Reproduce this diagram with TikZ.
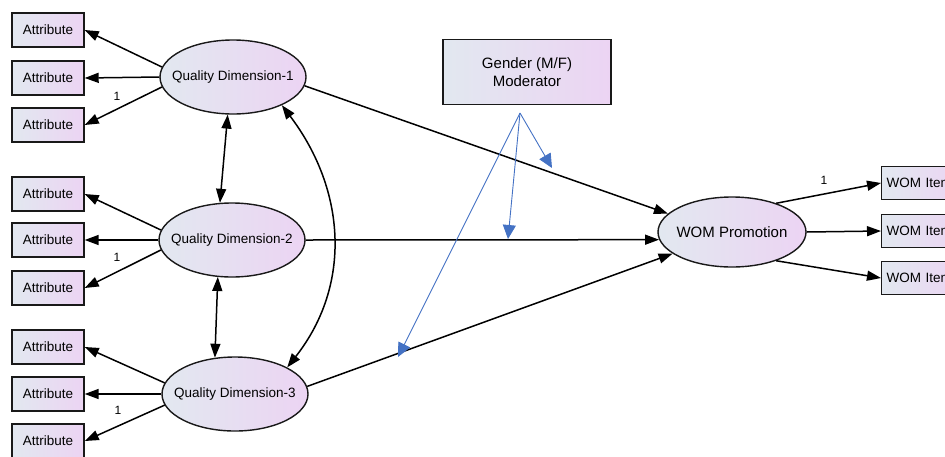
\documentclass[tikz,border=0pt]{standalone}
\usepackage{fontspec}
\setmainfont{Liberation Sans}
\usetikzlibrary{arrows.meta,shapes.geometric}
\definecolor{gL}{RGB}{226,232,240}
\definecolor{gR}{RGB}{236,212,243}
\definecolor{mblue}{RGB}{68,114,196}
\definecolor{edgec}{RGB}{25,25,25}
\begin{document}
\begin{tikzpicture}[x=1pt,y=-1pt,
  attr/.style={draw=edgec, line width=1.4pt, left color=gL, right color=gR,
    minimum width=72pt, minimum height=34pt, inner sep=0pt,
    font=\fontsize{13.5}{15}\selectfont},
  itembox/.style={draw=edgec, line width=1.4pt, left color=gL, right color=gR,
    text width=72pt, align=left, minimum height=33pt, inner xsep=5pt, inner ysep=0pt,
    font=\fontsize{13.5}{15}\selectfont},
  latent/.style={ellipse, draw=edgec, line width=1.4pt, left color=gL, right color=gR,
    minimum width=146pt, minimum height=74pt, inner xsep=-10pt, inner ysep=0pt,
    font=\fontsize{13.5}{15}\selectfont},
  arr/.style={line width=1.5pt, -{Triangle[length=14pt,width=10pt]}},
  darr/.style={line width=1.5pt, {Triangle[length=14pt,width=10pt]}-{Triangle[length=14pt,width=10pt]}},
  barr/.style={draw=mblue, line width=0.9pt, -{Triangle[length=14pt,width=13pt]}},
  lbl/.style={font=\fontsize{12}{14}\selectfont, inner sep=0pt}
]
\useasboundingbox (0,0) rectangle (945,456);
\clip (0,0) rectangle (945,456);

% latent variables
\node[latent] (QD1) at (233,77) {Quality Dimension-1};
\node[latent] (QD2) at (232,240) {Quality Dimension-2};
\node[latent] (QD3) at (235,394) {Quality Dimension-3};
\node[latent, minimum width=148pt, minimum height=70pt, inner xsep=-8pt,
  font=\fontsize{15}{17}\selectfont] (WOM) at (732,232) {WOM Promotion};

% indicators
\node[attr] (a11) at (48,30) {Attribute};
\node[attr] (a12) at (48,78) {Attribute};
\node[attr] (a13) at (48,125) {Attribute};
\node[attr] (a21) at (48,194) {Attribute};
\node[attr] (a22) at (48,240) {Attribute};
\node[attr] (a23) at (48,288) {Attribute};
\node[attr] (a31) at (48,347) {Attribute};
\node[attr] (a32) at (48,394) {Attribute};
\node[attr] (a33) at (48,441) {Attribute};

\node[itembox, anchor=west] (w1) at (881,183) {WOM Item};
\node[itembox, anchor=west] (w2) at (881,231) {WOM Item};
\node[itembox, anchor=west] (w3) at (881,278) {WOM Item};

% moderator
\node[attr, minimum width=168pt, minimum height=65pt, align=center,
  font=\fontsize{15}{18}\selectfont] (G) at (527,72) {Gender (M/F)\\Moderator};

% measurement paths
\draw[arr] (QD1.172) -- (a11.east);
\draw[arr] (QD1.west) -- (a12.east);
\draw[arr] (QD1.188) -- (a13.east);
\draw[arr] (QD2.172) -- (a21.east);
\draw[arr] (QD2.west) -- (a22.east);
\draw[arr] (QD2.188) -- (a23.east);
\draw[arr] (QD3.171) -- (a31.east);
\draw[arr] (QD3.west) -- (a32.east);
\draw[arr] (QD3.189) -- (a33.east);
\draw[arr] (WOM.33) -- (w1.west);
\draw[arr] (WOM.east) -- (w2.west);
\draw[arr] (WOM.-33) -- (w3.west);

\node[lbl] (l1) at (117,96) {1};
\node[lbl] (l2) at (117,257) {1};
\node[lbl] (l3) at (118,410) {1};
\node[lbl] (l4) at (824,180) {1};

% covariances
\draw[darr] (QD1.262) -- (QD2.108);
\draw[darr] (QD2.249) -- (QD3.119);
\draw[darr] (QD1.-30) .. controls (346,190) and (352,285) .. (QD3.27);

% structural paths
\draw[arr] (QD1.-7) -- (WOM.164);
\draw[arr] (QD2.east) -- (WOM.186);
\draw[arr] (QD3.6) -- (WOM.200);

% moderation arrows
\coordinate (bo) at (520,113);
\coordinate (t1) at (552,168);
\coordinate (t2) at (508,239);
\coordinate (t3) at (398,357);
\draw[barr] (bo) -- (t1);
\draw[barr] (bo) -- (t2);
\draw[barr] (bo) -- (t3);
\end{tikzpicture}
\end{document}
